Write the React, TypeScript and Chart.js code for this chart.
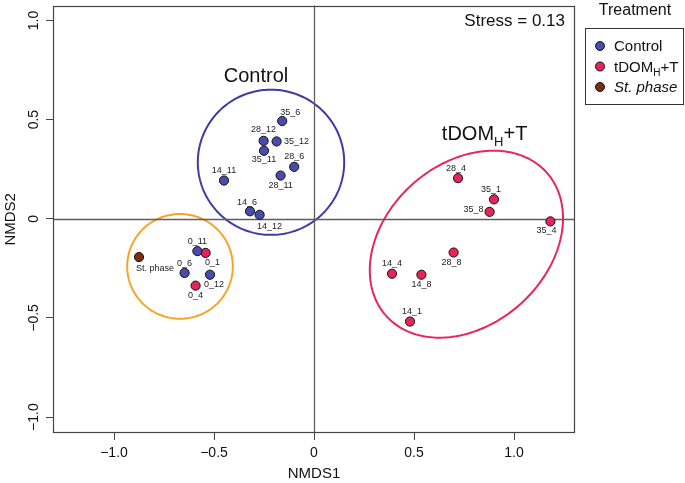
import React, { useEffect, useRef } from "react";
import { Chart, registerables } from "chart.js";

Chart.register(...registerables);

const FONT = '"Liberation Sans", Arial, Helvetica, sans-serif';

// ---- Data (NMDS scores) ----
const controlLabels = ["35_6", "28_12", "35_12", "35_11", "28_6", "28_11", "14_11", "14_6", "14_12", "0_11", "0_6", "0_12"];
const controlNMDS1 = [-0.159, -0.252, -0.187, -0.25, -0.099, -0.167, -0.45, -0.32, -0.272, -0.583, -0.647, -0.52];
const controlNMDS2 = [0.493, 0.393, 0.39, 0.343, 0.262, 0.218, 0.193, 0.038, 0.02, -0.163, -0.273, -0.282];

const tdomLabels = ["28_4", "35_1", "35_8", "35_4", "28_8", "14_4", "14_8", "14_1", "0_1", "0_4"];
const tdomNMDS1 = [0.72, 0.9, 0.878, 1.182, 0.698, 0.39, 0.537, 0.48, -0.542, -0.592];
const tdomNMDS2 = [0.205, 0.098, 0.035, -0.013, -0.17, -0.277, -0.282, -0.518, -0.172, -0.337];

const stLabels = ["St. phase"];
const stNMDS1 = [-0.875];
const stNMDS2 = [-0.193];

const seriesNames = ["Control", "tDOM_H+T", "St. phase"];
const stressValue = 0.13;

const xTicks = [-1, -0.5, 0, 0.5, 1];
const yTicks = [-1, -0.5, 0, 0.5, 1];

// Ellipses: [centre NMDS1, centre NMDS2, semi-axis a, semi-axis b, angle (deg)]
const controlEllipse = [-0.215, 0.285, 0.366, 0.366, 0];
const tdomEllipse = [0.762, -0.128, 0.54, 0.405, 42.5];
const startEllipse = [-0.67, -0.24, 0.264, 0.264, 0];

// Group annotation anchors (data units)
const controlTitlePos = [-0.29, 0.72];
const tdomTitlePos = [0.853, 0.435];

// ---- Styles ----
const COLORS = { control: "#4a4cab", tdom: "#e5245a", st: "#7a2e10" };
const ELLIPSE_COLORS = { control: "#3d3ca6", tdom: "#e8265a", st: "#f6a428" };
const controlLabelOffsets = [[8, -9], [0, -11], [20, 0], [0, 9], [0, -10], [0, 10], [0, -10], [-3, -9], [10, 11.5], [0, -10], [0, -9.5], [4, 9.5]];
const tdomLabelOffsets = [[-2, -10], [-3, -10], [-16, -2], [-4, 9.5], [-2, 10], [0, -10], [0, 10], [2, -10], [7, 10], [0, 10]];
const stLabelOffsets = [[16, 11]];

const fmtTick = (v: number) => (v === 0 ? "0" : v.toFixed(1).replace("-", "\u2212"));

function parseRich(text: string) {
  const segs: { t: string; sub: boolean }[] = [];
  const parts = text.split(/_(\w)/);
  parts.forEach((p, i) => {
    if (p) segs.push({ t: p, sub: i % 2 === 1 });
  });
  return segs;
}

function drawRich(ctx: CanvasRenderingContext2D, text: string, x: number, y: number, size: number, align: "left" | "center", italic = false) {
  const segs = parseRich(text);
  const subSize = Math.round(size * 0.65);
  const fontFor = (s: { sub: boolean }) => `${italic ? "italic " : ""}${s.sub ? subSize : size}px ${FONT}`;
  let total = 0;
  segs.forEach((s) => {
    ctx.font = fontFor(s);
    total += ctx.measureText(s.t).width;
  });
  let cx = align === "center" ? x - total / 2 : x;
  ctx.textAlign = "left";
  ctx.textBaseline = "alphabetic";
  segs.forEach((s) => {
    ctx.font = fontFor(s);
    ctx.fillText(s.t, cx, s.sub ? y + size * 0.3 : y);
    cx += ctx.measureText(s.t).width;
  });
}

function drawEllipse(chart: any, e: number[], color: string) {
  const { ctx, scales } = chart;
  const [cx, cy, a, b, ang] = e;
  const th = (ang * Math.PI) / 180;
  ctx.beginPath();
  const n = 240;
  for (let i = 0; i <= n; i++) {
    const t = (i / n) * 2 * Math.PI;
    const dx = a * Math.cos(t);
    const dy = b * Math.sin(t);
    const vx = cx + dx * Math.cos(th) - dy * Math.sin(th);
    const vy = cy + dx * Math.sin(th) + dy * Math.cos(th);
    const px = scales.x.getPixelForValue(vx);
    const py = scales.y.getPixelForValue(vy);
    if (i === 0) ctx.moveTo(px, py);
    else ctx.lineTo(px, py);
  }
  ctx.closePath();
  ctx.strokeStyle = color;
  ctx.lineWidth = 2;
  ctx.stroke();
}

const decorPlugin = {
  id: "nmdsDecor",
  beforeDatasetsDraw(chart: any) {
    const { ctx, chartArea, scales } = chart;
    const { left, right, top, bottom } = chartArea;
    ctx.save();
    drawEllipse(chart, startEllipse, ELLIPSE_COLORS.st);
    drawEllipse(chart, controlEllipse, ELLIPSE_COLORS.control);
    drawEllipse(chart, tdomEllipse, ELLIPSE_COLORS.tdom);
    const x0 = Math.round(scales.x.getPixelForValue(0)) + 0.5;
    const y0 = Math.round(scales.y.getPixelForValue(0)) + 0.5;
    ctx.strokeStyle = "#5e5e5e";
    ctx.lineWidth = 1.3;
    ctx.beginPath();
    ctx.moveTo(left, y0);
    ctx.lineTo(right, y0);
    ctx.moveTo(x0, top);
    ctx.lineTo(x0, bottom);
    ctx.stroke();
    ctx.strokeStyle = "#444";
    ctx.lineWidth = 1.2;
    ctx.strokeRect(Math.round(left) + 0.5, Math.round(top) + 0.5, Math.round(right - left) - 1, Math.round(bottom - top) - 1);
    ctx.restore();
  },
  afterDatasetsDraw(chart: any) {
    const { ctx, chartArea, scales } = chart;
    ctx.save();
    // point labels
    ctx.fillStyle = "#222";
    ctx.font = `9px ${FONT}`;
    ctx.textAlign = "center";
    ctx.textBaseline = "middle";
    chart.data.datasets.forEach((ds: any, i: number) => {
      const meta = chart.getDatasetMeta(i);
      meta.data.forEach((el: any, j: number) => {
        const off = ds.labelOffsets[j];
        ctx.fillText(ds.pointLabels[j], el.x + off[0], el.y + off[1]);
      });
    });
    // group titles
    ctx.fillStyle = "#111";
    ctx.font = `20px ${FONT}`;
    ctx.textAlign = "center";
    ctx.textBaseline = "middle";
    ctx.fillText(seriesNames[0], scales.x.getPixelForValue(controlTitlePos[0]), scales.y.getPixelForValue(controlTitlePos[1]));
    drawRich(ctx, seriesNames[1], scales.x.getPixelForValue(tdomTitlePos[0]), scales.y.getPixelForValue(tdomTitlePos[1]) + 7, 20, "center");
    // stress
    ctx.font = `17px ${FONT}`;
    ctx.textAlign = "right";
    ctx.textBaseline = "middle";
    ctx.fillText(`Stress = ${stressValue.toFixed(2)}`, chartArea.right - 10, chartArea.top + 16);
    ctx.restore();
  },
  afterDraw(chart: any) {
    const { ctx, scales } = chart;
    ctx.save();
    // rotated y tick labels
    ctx.fillStyle = "#111";
    ctx.font = `14px ${FONT}`;
    ctx.textAlign = "center";
    ctx.textBaseline = "middle";
    yTicks.forEach((v) => {
      const py = scales.y.getPixelForValue(v);
      ctx.save();
      ctx.translate(34, py);
      ctx.rotate(-Math.PI / 2);
      ctx.fillText(fmtTick(v), 0, 0);
      ctx.restore();
    });
    // legend
    const boxL = 585, boxT = 28, boxR = 683, boxB = 104;
    ctx.font = `16px ${FONT}`;
    ctx.textAlign = "center";
    ctx.textBaseline = "middle";
    ctx.fillText("Treatment", (boxL + boxR) / 2 + 1, 11);
    ctx.strokeStyle = "#333";
    ctx.lineWidth = 1;
    ctx.strokeRect(boxL + 0.5, boxT + 0.5, boxR - boxL, boxB - boxT);
    chart.data.datasets.forEach((ds: any, i: number) => {
      const yy = 46 + i * 20.5;
      ctx.beginPath();
      ctx.arc(boxL + 15, yy, 4.5, 0, Math.PI * 2);
      ctx.fillStyle = ds.backgroundColor;
      ctx.fill();
      ctx.strokeStyle = "#111";
      ctx.lineWidth = 1;
      ctx.stroke();
      ctx.fillStyle = "#111";
      drawRich(ctx, ds.label, boxL + 29, yy + 5, 15, "left", i === 2);
    });
    ctx.restore();
  },
};

export default function App() {
  const ref = useRef<HTMLCanvasElement | null>(null);

  useEffect(() => {
    document.body.style.margin = "0";
    if (!ref.current) return;
    const mk = (xs: number[], ys: number[]) => xs.map((v, i) => ({ x: v, y: ys[i] }));
    const pointStyle = { pointRadius: 4.6, pointHoverRadius: 4.6, pointBorderWidth: 1, borderColor: "#111", showLine: false };
    const chart = new Chart(ref.current, {
      type: "scatter",
      data: {
        datasets: [
          { label: seriesNames[0], data: mk(controlNMDS1, controlNMDS2), backgroundColor: COLORS.control, pointLabels: controlLabels, labelOffsets: controlLabelOffsets, ...pointStyle } as any,
          { label: seriesNames[1], data: mk(tdomNMDS1, tdomNMDS2), backgroundColor: COLORS.tdom, pointLabels: tdomLabels, labelOffsets: tdomLabelOffsets, ...pointStyle } as any,
          { label: seriesNames[2], data: mk(stNMDS1, stNMDS2), backgroundColor: COLORS.st, pointLabels: stLabels, labelOffsets: stLabelOffsets, ...pointStyle } as any,
        ],
      },
      options: {
        responsive: false,
        animation: false,
        layout: { padding: { top: 2, right: 110, left: 0, bottom: 0 } },
        plugins: { legend: { display: false }, tooltip: { enabled: false } },
        events: [],
        scales: {
          x: {
            type: "linear",
            min: -1.305,
            max: 1.305,
            afterBuildTicks: (s: any) => {
              s.ticks = xTicks.map((v) => ({ value: v }));
            },
            afterFit: (s: any) => {
              s.height = 50;
            },
            ticks: { callback: (v: any) => fmtTick(Number(v)), font: { family: FONT, size: 14 }, color: "#111", padding: 5, maxRotation: 0, autoSkip: false },
            grid: { drawOnChartArea: false, drawTicks: true, tickLength: 7, color: "#444", lineWidth: 1 },
            border: { display: false },
            title: { display: true, text: "NMDS1", font: { family: FONT, size: 15 }, color: "#111", padding: { top: 0, bottom: 0 } },
          },
          y: {
            type: "linear",
            min: -1.08,
            max: 1.075,
            afterBuildTicks: (s: any) => {
              s.ticks = yTicks.map((v) => ({ value: v }));
            },
            afterFit: (s: any) => {
              s.width = 53;
            },
            ticks: { display: false },
            grid: { drawOnChartArea: false, drawTicks: true, tickLength: 7, color: "#444", lineWidth: 1 },
            border: { display: false },
            title: { display: true, text: "NMDS2", font: { family: FONT, size: 15 }, color: "#111", padding: { top: 2, bottom: 0 } },
          },
        },
      },
      plugins: [decorPlugin],
    } as any);
    return () => chart.destroy();
  }, []);

  return (
    <div style={{ position: "fixed", left: 0, top: 0, width: 685, height: 483, background: "#fff" }}>
      <canvas ref={ref} width={685} height={483} style={{ display: "block" }} />
    </div>
  );
}
